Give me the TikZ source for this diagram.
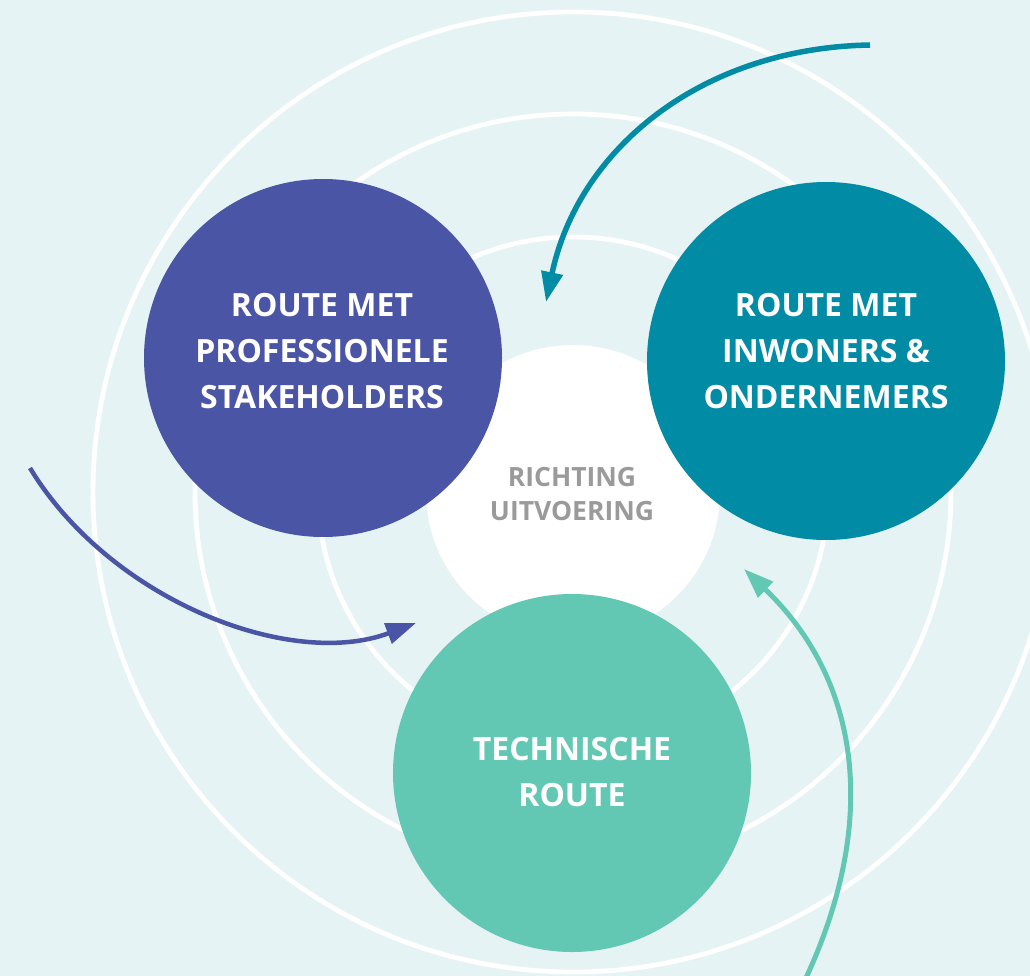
\documentclass[tikz,border=0pt]{standalone}
\usepackage{fontspec}
\setmainfont{Open Sans}
\usetikzlibrary{arrows.meta}
\definecolor{bgc}{HTML}{E5F3F4}
\definecolor{purp}{HTML}{4B55A5}
\definecolor{teal2}{HTML}{018BA4}
\definecolor{mint}{HTML}{62C8B4}
\definecolor{greytext}{HTML}{9A9A9A}
\tikzset{
  ring/.style={draw=white, line width=4.8pt},
  bigdot/.style={circle, inner sep=0pt, minimum size=358pt},
  lbl/.style={text=white, font=\bfseries\fontsize{32}{46}\selectfont, align=center},
  flow/.style={line width=5pt, -{Triangle[length=30pt,width=21pt]}}
}
\begin{document}
\begin{tikzpicture}[x=1pt,y=-1pt]
\fill[bgc] (0,0) rectangle (1030,976);
\useasboundingbox (0,0) rectangle (1030,976);
\coordinate (c) at (573,492);
\draw[ring] (c) circle[radius=480];
\draw[ring] (c) circle[radius=378];
\draw[ring] (c) circle[radius=255];
\node[circle, fill=white, inner sep=0pt, minimum size=294pt] (core) at (c) {};
\node[text=greytext, font=\bfseries\fontsize{26.5}{34}\selectfont, align=center] (coretxt) at (572,494) {RICHTING\\UITVOERING};
\node[bigdot, fill=purp] (prof) at (323,358) {};
\node[lbl] (proftxt) at (322,351) {ROUTE MET\\PROFESSIONELE\\STAKEHOLDERS};
\node[bigdot, fill=teal2] (inw) at (826,361) {};
\node[lbl] (inwtxt) at (826,351) {ROUTE MET\\INWONERS \&\\ONDERNEMERS};
\node[bigdot, fill=mint] (tech) at (572,773) {};
\node[lbl] (techtxt) at (572,772) {TECHNISCHE\\ROUTE};
% arrows
\coordinate (a1s) at (870,45);
\coordinate (a1e) at (546,302);
\draw[flow, draw=teal2, line width=5.5pt] (a1s) .. controls (700,48) and (578,150) .. (a1e);
\coordinate (a2s) at (30,468);
\coordinate (a2e) at (416,623);
\draw[flow, draw=purp, line width=4.5pt] (a2s) .. controls (110,600) and (290,670) .. (a2e);
\coordinate (a3s) at (805,980);
\coordinate (a3e) at (744,569);
\draw[flow, draw=mint] (a3s) .. controls (880,820) and (860,680) .. (a3e);
\end{tikzpicture}
\end{document}
